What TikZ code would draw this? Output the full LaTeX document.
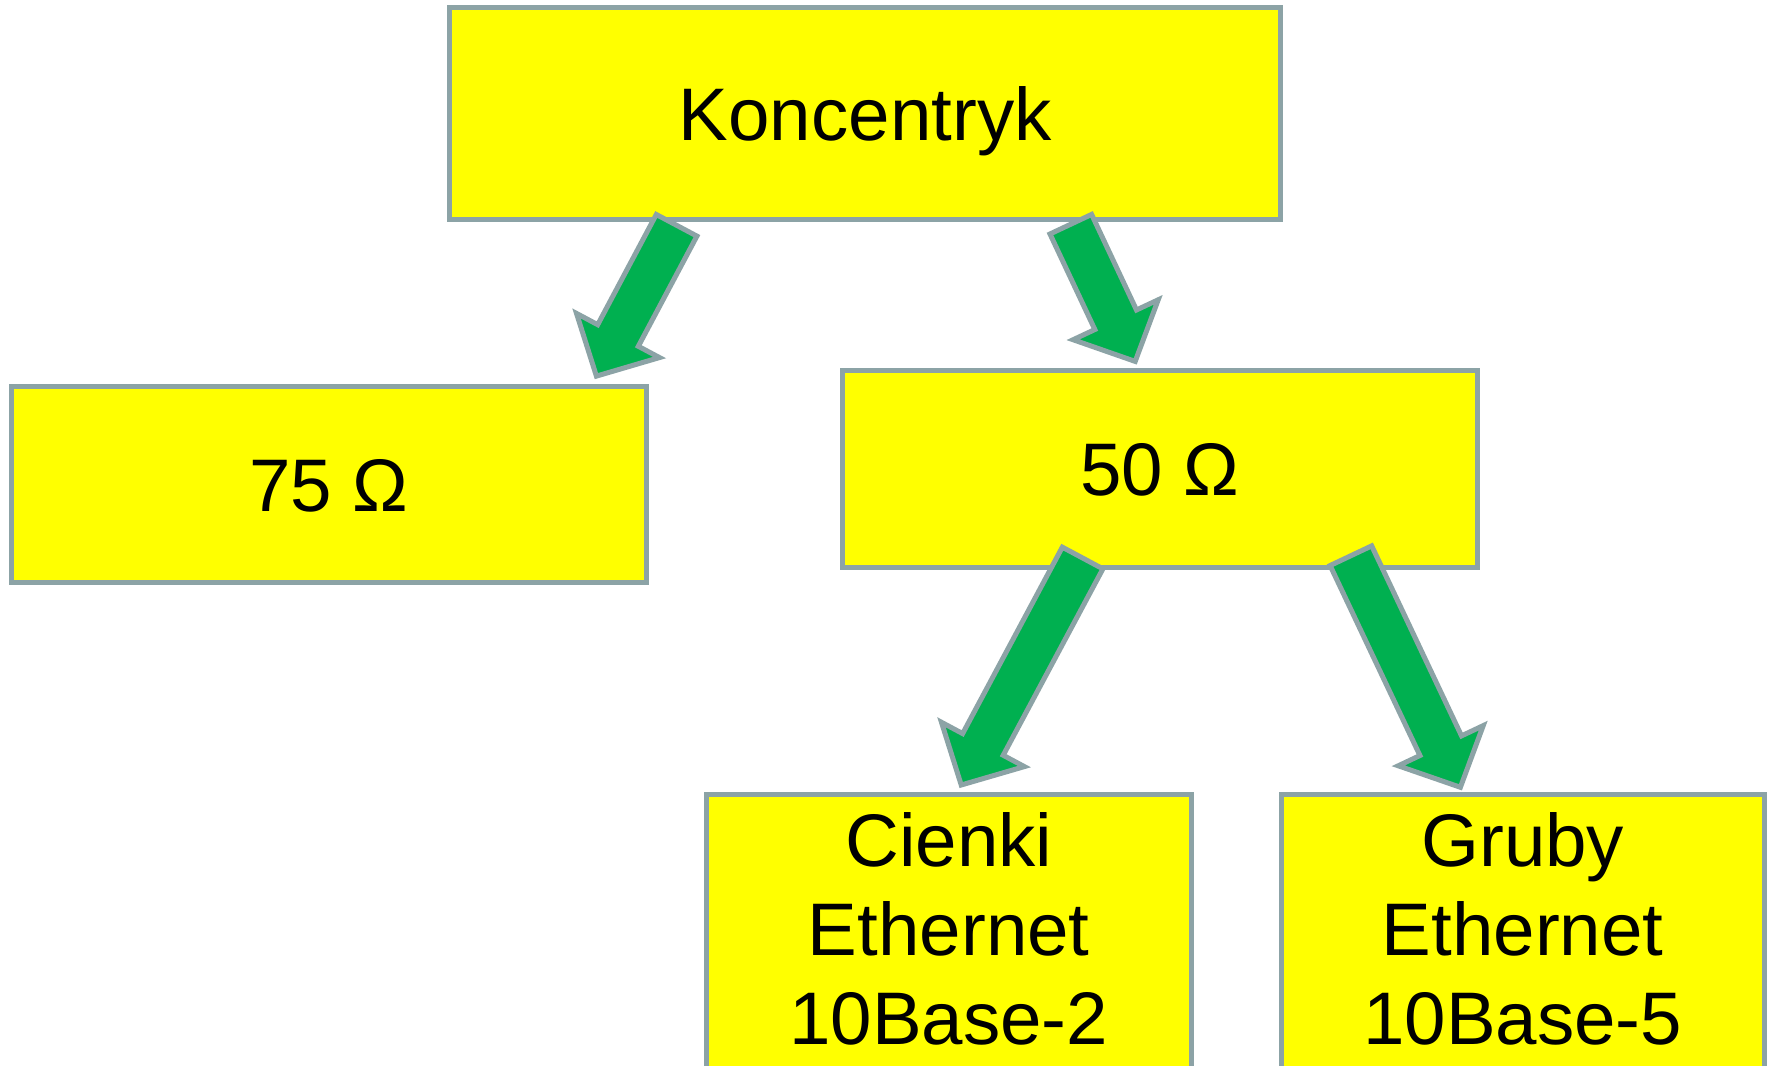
\documentclass[tikz,border=0pt]{standalone}
\usepackage{fontspec}
\setmainfont{Liberation Sans}
\usetikzlibrary{calc}
\definecolor{boxyellow}{RGB}{255,255,0}
\definecolor{edgegray}{RGB}{140,163,166}
\definecolor{arrowgreen}{RGB}{0,176,80}
\tikzset{
  box/.style={draw=edgegray, fill=boxyellow, line width=5pt, inner sep=0pt},
  lbl/.style={font=\fontsize{74.5}{89}\selectfont, align=center, inner sep=0pt},
  onelbl/.style={lbl, text height=53pt, text depth=0pt},
  blockarrow/.style={draw=edgegray, fill=arrowgreen, line width=5pt, line join=miter},
}
\newcommand{\blkarrow}[2]{%
  \path[blockarrow] let \p1=(#1), \p2=(#2),
    \n1={atan2(\y2-\y1,\x2-\x1)}, \n2={veclen(\x2-\x1,\y2-\y1)} in
    [shift={(\p1)}, rotate=\n1]
    (0,-23) -- (\n2-46,-23) -- (\n2-46,-47) -- (\n2,0) -- (\n2-46,47) -- (\n2-46,23) -- (0,23) -- cycle;}
\begin{document}
\begin{tikzpicture}[x=1pt,y=1pt]
\useasboundingbox (0,0) rectangle (1771,-1065);
\clip (0,0) rectangle (1771,-1065);
% boxes
\node[box, minimum width=831.4pt, minimum height=211.2pt] (konc) at (865.2,-113.5) {};
\node[box, minimum width=634.8pt, minimum height=196.5pt] (om75) at (328.7,-484.5) {};
\node[box, minimum width=634.8pt, minimum height=196.5pt] (om50) at (1160,-468.8) {};
\node[box, minimum width=484.5pt, minimum height=340pt, anchor=north west] (cienki) at (704,-792) {};
\node[box, minimum width=483.4pt, minimum height=340pt, anchor=north west] (gruby) at (1278.5,-792) {};
% texts
\node[onelbl] (tkonc) at (konc.center) {Koncentryk};
\node[onelbl] (t75) at (om75.center) {75 Ω};
\node[onelbl] (t50) at (om50.center) {50 Ω};
\node[lbl, anchor=north] (tcienki) at ($(cienki.north)+(0,-20)$) {Cienki\\Ethernet\\10Base-2};
\node[lbl, anchor=north] (tgruby) at ($(gruby.north)+(0,-20)$) {Gruby\\Ethernet\\10Base-5};
% arrow end points
\coordinate (a1s) at (676.6,-225.3);
\coordinate (a1e) at (596.4,-376.1);
\coordinate (a2s) at (1070.8,-224.2);
\coordinate (a2e) at (1135.2,-361.4);
\coordinate (a3s) at (1082.6,-558);
\coordinate (a3e) at (961.2,-785);
\coordinate (a4s) at (1350.9,-555.7);
\coordinate (a4e) at (1460.4,-787.3);
\blkarrow{a1s}{a1e}
\blkarrow{a2s}{a2e}
\blkarrow{a3s}{a3e}
\blkarrow{a4s}{a4e}
\end{tikzpicture}
\end{document}
